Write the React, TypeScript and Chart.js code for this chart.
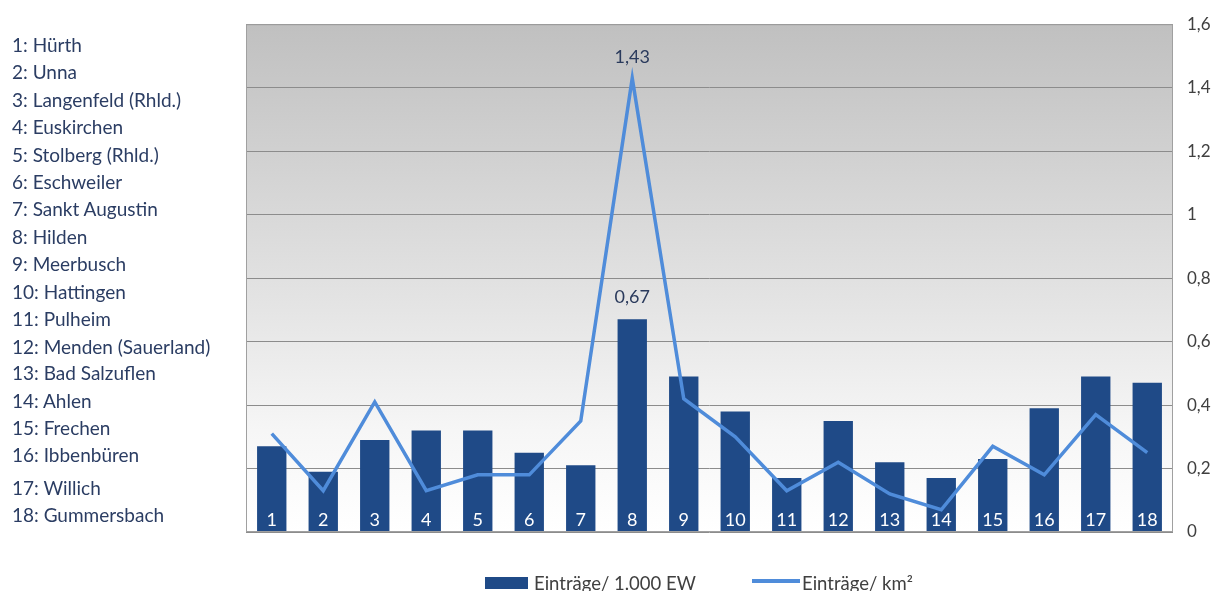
import React, { useEffect, useRef } from "react";
import { Chart, registerables } from "chart.js";

Chart.register(...registerables);

const categories = ["1", "2", "3", "4", "5", "6", "7", "8", "9", "10", "11", "12", "13", "14", "15", "16", "17", "18"];
const cityNames = [
  "1: Hürth",
  "2: Unna",
  "3: Langenfeld (Rhld.)",
  "4: Euskirchen",
  "5: Stolberg (Rhld.)",
  "6: Eschweiler",
  "7: Sankt Augustin",
  "8: Hilden",
  "9: Meerbusch",
  "10: Hattingen",
  "11: Pulheim",
  "12: Menden (Sauerland)",
  "13: Bad Salzuflen",
  "14: Ahlen",
  "15: Frechen",
  "16: Ibbenbüren",
  "17: Willich",
  "18: Gummersbach",
];
const entriesPer1000 = [0.27, 0.19, 0.29, 0.32, 0.32, 0.25, 0.21, 0.67, 0.49, 0.38, 0.17, 0.35, 0.22, 0.17, 0.23, 0.39, 0.49, 0.47];
const entriesPerKm2 = [0.31, 0.13, 0.41, 0.13, 0.18, 0.18, 0.35, 1.43, 0.42, 0.3, 0.13, 0.22, 0.12, 0.07, 0.27, 0.18, 0.37, 0.25];
const seriesNames = ["Einträge/ 1.000 EW", "Einträge/ km²"];
const highlightIndex = 7;

const cityY = [45, 72, 100, 127, 155, 182, 209, 237, 264, 292, 319, 347, 373, 401, 428, 455, 488, 515];

const BAR_COLOR = "#1F4A87";
const LINE_COLOR = "#4F8CDA";
const FONT = "Lato, 'Open Sans', sans-serif";

const fmt = (v: number) => {
  const r = Math.round(v * 100) / 100;
  return r.toString().replace(".", ",");
};

export default function App() {
  const ref = useRef<HTMLCanvasElement | null>(null);

  useEffect(() => {
    if (!ref.current) return;

    const bgPlugin = {
      id: "bg",
      beforeDraw(chart: any) {
        const { ctx, chartArea: a } = chart;
        const g = ctx.createLinearGradient(0, a.top, 0, a.bottom);
        g.addColorStop(0, "#c0c0c0");
        g.addColorStop(0.55, "#e4e4e4");
        g.addColorStop(0.8, "#f6f6f6");
        g.addColorStop(1, "#ffffff");
        ctx.save();
        ctx.fillStyle = g;
        ctx.fillRect(a.left, a.top, a.right - a.left, a.bottom - a.top);
        ctx.restore();
      },
      afterDraw(chart: any) {
        const { ctx, chartArea: a } = chart;
        ctx.save();
        ctx.strokeStyle = "#a0a0a0";
        ctx.lineWidth = 1;
        ctx.strokeRect(a.left + 0.5, a.top + 0.5, a.right - a.left - 1, a.bottom - a.top - 1);
        ctx.restore();
      },
    };

    const labelPlugin = {
      id: "labels",
      afterDatasetDraw(chart: any, args: any) {
        if (args.index !== 0) return;
        const { ctx } = chart;
        const meta = chart.getDatasetMeta(0);
        ctx.save();
        ctx.fillStyle = "#ffffff";
        ctx.font = `18px ${FONT}`;
        ctx.textAlign = "center";
        ctx.textBaseline = "bottom";
        meta.data.forEach((el: any, i: number) => {
          ctx.fillText(categories[i], el.x, el.base - 2);
        });
        ctx.restore();
      },
      afterDatasetsDraw(chart: any) {
        const { ctx } = chart;
        const bar = chart.getDatasetMeta(0).data[highlightIndex];
        const pt = chart.getDatasetMeta(1).data[highlightIndex];
        ctx.save();
        ctx.fillStyle = "#2a3a5c";
        ctx.font = `18px ${FONT}`;
        ctx.textAlign = "center";
        ctx.textBaseline = "middle";
        ctx.fillText(fmt(entriesPer1000[highlightIndex]), bar.x, bar.y - 22);
        ctx.fillText(fmt(entriesPerKm2[highlightIndex]), pt.x, pt.y - 21);
        ctx.restore();
      },
    };

    const chart = new Chart(ref.current, {
      type: "bar",
      data: {
        labels: categories,
        datasets: [
          {
            type: "bar",
            label: seriesNames[0],
            data: entriesPer1000,
            backgroundColor: BAR_COLOR,
            categoryPercentage: 1,
            barPercentage: 0.57,
            order: 2,
          },
          {
            type: "line",
            label: seriesNames[1],
            data: entriesPerKm2,
            borderColor: LINE_COLOR,
            borderWidth: 3.5,
            pointRadius: 0,
            tension: 0,
            order: 1,
          } as any,
        ],
      },
      options: {
        responsive: false,
        animation: false,
        layout: { padding: { left: 246, top: 22, bottom: 59, right: 0 } },
        plugins: {
          legend: { display: false },
          tooltip: { enabled: false },
        },
        scales: {
          x: { display: false },
          y: {
            position: "right",
            min: 0,
            max: 1.6,
            ticks: {
              stepSize: 0.2,
              padding: 14,
              color: "#404040",
              font: { family: FONT, size: 17 },
              callback: (v: any) => fmt(Number(v)),
            },
            grid: { color: "#8c8c8c", drawTicks: false, lineWidth: 1 },
            border: { display: false },
            afterFit: (scale: any) => {
              scale.width = 50;
            },
          },
        },
      },
      plugins: [bgPlugin, labelPlugin],
    });

    return () => chart.destroy();
  }, []);

  return (
    <div style={{ position: "fixed", left: 0, top: 0, width: 1223, height: 591, background: "#ffffff", overflow: "hidden" }}>
      <canvas ref={ref} width={1223} height={591} style={{ position: "absolute", left: 0, top: 0 }} />
      {cityNames.map((name, i) => (
        <div
          key={name}
          style={{
            position: "absolute",
            left: 12,
            top: cityY[i] - 12,
            height: 24,
            lineHeight: "24px",
            fontFamily: FONT,
            fontSize: 19,
            color: "#2b3d63",
            whiteSpace: "nowrap",
          }}
        >
          {name}
        </div>
      ))}
      <div style={{ position: "absolute", left: 485, top: 577, width: 43, height: 12, background: BAR_COLOR }} />
      <div
        style={{ position: "absolute", left: 534, top: 571, lineHeight: "24px", fontFamily: FONT, fontSize: 18.5, color: "#404040", whiteSpace: "nowrap" }}
      >
        {seriesNames[0]}
      </div>
      <div style={{ position: "absolute", left: 752, top: 579, width: 48, height: 3.5, background: LINE_COLOR }} />
      <div
        style={{ position: "absolute", left: 802, top: 571, lineHeight: "24px", fontFamily: FONT, fontSize: 18.5, color: "#404040", whiteSpace: "nowrap" }}
      >
        {seriesNames[1]}
      </div>
    </div>
  );
}
